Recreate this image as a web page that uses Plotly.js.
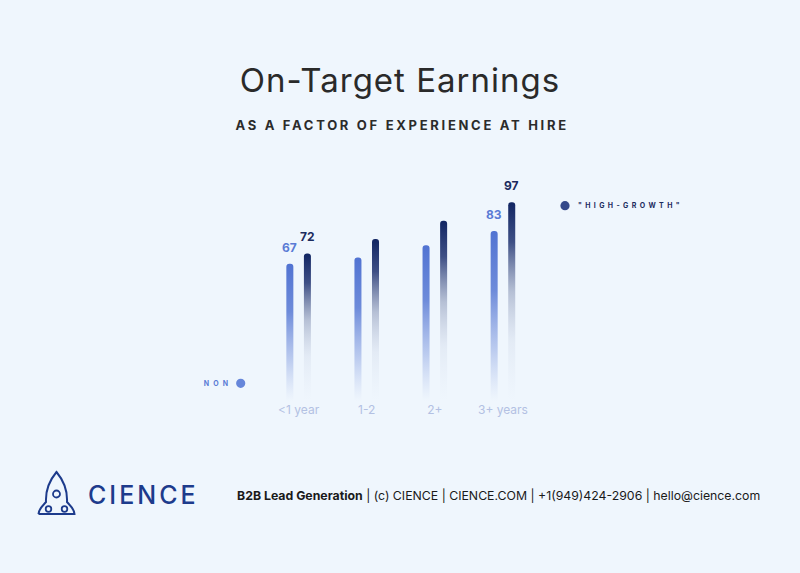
<!DOCTYPE html>
<html>
<head>
<meta charset="utf-8">
<script src="https://cdn.plot.ly/plotly-3.0.1.min.js"></script>
<style>
  html, body { margin: 0; padding: 0; background: #eff6fd; }
  #chart { width: 800px; height: 573px; }
  .gtitle { letter-spacing: 1.0px; }
  .annotation[data-index="0"] text { letter-spacing: 2.7px; }
  .annotation[data-index="1"] text { letter-spacing: 4.2px; }
  .annotation[data-index="2"] text { letter-spacing: 3.4px; }
  .annotation[data-index="3"] text { letter-spacing: 3px; }
</style>
</head>
<body>
<div id="chart"></div>
<script>
// ---- data ----
const categories = ['<1 year', '1-2', '2+', '3+ years'];
const nonValues = [67, 70, 76, 83];
const highValues = [72, 79, 88, 97];
const nonLabels = ['67', '', '', '83'];
const highLabels = ['72', '', '', '97'];
const seriesNames = ['NON', '"HIGH-GROWTH"'];

// ---- layout helpers ----
const W = 800, H = 573, MB = 172;
const plotH = H - MB;
const X = x => x / W;             // pixel -> paper x
const Y = y => 1 - y / plotH;     // pixel -> paper y
const P = (x, y) => X(x).toFixed(5) + ',' + Y(y).toFixed(5);

const nonColor = '#5576d3';
const highColor = '#142a66';
const barOff = 0.129, barW = 0.103;

const traces = [
  {
    type: 'bar', name: seriesNames[0], x: categories, y: nonValues,
    width: barW, offset: -barOff - barW / 2,
    marker: { color: nonColor, cornerradius: 3.5, line: { width: 0 } },
    hoverinfo: 'skip', showlegend: false
  },
  {
    type: 'bar', name: seriesNames[1], x: categories, y: highValues,
    width: barW, offset: barOff - barW / 2,
    marker: { color: highColor, cornerradius: 3.5, line: { width: 0 } },
    hoverinfo: 'skip', showlegend: false
  }
];

const annotations = [
  { text: 'AS A FACTOR OF EXPERIENCE AT HIRE', xref: 'paper', yref: 'paper',
    x: X(402.3), y: Y(124.5), xanchor: 'center', yanchor: 'middle', showarrow: false,
    font: { family: 'Inter', size: 13, color: '#2b2b2b', weight: 700 } },
  { text: seriesNames[0], xref: 'paper', yref: 'paper',
    x: X(218), y: Y(383.3), xanchor: 'center', yanchor: 'middle', showarrow: false,
    font: { family: 'Inter', size: 7, color: '#5a7bd5', weight: 700 } },
  { text: seriesNames[1], xref: 'paper', yref: 'paper',
    x: X(630), y: Y(205.7), xanchor: 'center', yanchor: 'middle', showarrow: false,
    font: { family: 'Inter', size: 7, color: '#1b2b5e', weight: 700 } },
  { text: 'CIENCE', xref: 'paper', yref: 'paper',
    x: X(143.5), y: Y(494.5), xanchor: 'center', yanchor: 'middle', showarrow: false,
    font: { family: 'Inter', size: 25, color: '#1d3b8c', weight: 500 } },
  { text: '<b>B2B Lead Generation</b> | (c) CIENCE | CIENCE.COM | +1(949)424-2906 | hello@cience.com',
    xref: 'paper', yref: 'paper',
    x: X(235), y: Y(495), xanchor: 'left', yanchor: 'middle', showarrow: false,
    font: { family: 'Inter', size: 12.3, color: '#1a1a1a' } }
];

categories.forEach((c, i) => {
  if (nonLabels[i]) annotations.push({
    text: '<b>' + nonLabels[i] + '</b>', xref: 'x', yref: 'y', x: i - barOff, y: nonValues[i],
    yshift: 16.5, xanchor: 'center', yanchor: 'middle', showarrow: false,
    font: { family: 'Inter', size: 12, color: '#5a7bd5' } });
  if (highLabels[i]) annotations.push({
    text: '<b>' + highLabels[i] + '</b>', xref: 'x', yref: 'y', x: i + barOff, y: highValues[i],
    yshift: 16.5, xanchor: 'center', yanchor: 'middle', showarrow: false,
    font: { family: 'Inter', size: 12, color: '#1b2b5e' } });
});

const logoColor = '#1d3b8c';
const rocketBody = 'M ' + P(38.5, 514) +
  ' C ' + P(38.5, 509) + ' ' + P(43.5, 505) + ' ' + P(46, 502) +
  ' C ' + P(45.5, 492) + ' ' + P(49, 481) + ' ' + P(56.5, 472) +
  ' C ' + P(64, 481) + ' ' + P(67.5, 492) + ' ' + P(67, 502) +
  ' C ' + P(69.5, 505) + ' ' + P(74.5, 509) + ' ' + P(74.5, 514) +
  ' L ' + P(38.5, 514);

const shapes = [
  { type: 'path', xref: 'paper', yref: 'paper', path: rocketBody,
    line: { color: logoColor, width: 2 }, fillcolor: 'rgba(0,0,0,0)' },
  { type: 'circle', xref: 'paper', yref: 'paper', xsizemode: 'pixel', ysizemode: 'pixel',
    xanchor: X(56.5), yanchor: Y(494), x0: -3.5, x1: 3.5, y0: -3.5, y1: 3.5,
    line: { color: logoColor, width: 1.8 }, fillcolor: 'rgba(0,0,0,0)' },
  { type: 'circle', xref: 'paper', yref: 'paper', xsizemode: 'pixel', ysizemode: 'pixel',
    xanchor: X(48.5), yanchor: Y(509), x0: -2.8, x1: 2.8, y0: -2.8, y1: 2.8,
    line: { color: logoColor, width: 1.8 }, fillcolor: '#eff6fd' },
  { type: 'circle', xref: 'paper', yref: 'paper', xsizemode: 'pixel', ysizemode: 'pixel',
    xanchor: X(64.5), yanchor: Y(509), x0: -2.8, x1: 2.8, y0: -2.8, y1: 2.8,
    line: { color: logoColor, width: 1.8 }, fillcolor: '#eff6fd' },
  // legend dots
  { type: 'circle', xref: 'paper', yref: 'paper', xsizemode: 'pixel', ysizemode: 'pixel',
    xanchor: X(240.7), yanchor: Y(383.3), x0: -4.6, x1: 4.6, y0: -4.6, y1: 4.6,
    line: { width: 0 }, fillcolor: '#6686da' },
  { type: 'circle', xref: 'paper', yref: 'paper', xsizemode: 'pixel', ysizemode: 'pixel',
    xanchor: X(565), yanchor: Y(205.7), x0: -4.6, x1: 4.6, y0: -4.6, y1: 4.6,
    line: { width: 0 }, fillcolor: '#34498a' }
];

const layout = {
  width: W, height: H,
  margin: { l: 0, r: 0, t: 0, b: MB, pad: 0 },
  paper_bgcolor: '#eff6fd', plot_bgcolor: '#eff6fd',
  title: { text: 'On-Target Earnings', xref: 'paper', x: 0.5, xanchor: 'center',
    yref: 'container', y: 1 - 80 / H, yanchor: 'middle',
    font: { family: 'Inter', size: 33, color: '#2a2a2a', weight: 400 } },
  barmode: 'overlay',
  xaxis: { type: 'category', range: [-4.385, 7.362], showgrid: false, zeroline: false,
    showline: false, ticks: '', tickfont: { family: 'Inter', size: 12, color: '#b3c1e3' },
    fixedrange: true },
  yaxis: { range: [0, plotH / 2.0495], visible: false, fixedrange: true },
  showlegend: false,
  annotations: annotations,
  shapes: shapes
};

Plotly.newPlot('chart', traces, layout, { displayModeBar: false, staticPlot: true }).then(gd => {
  const svg = gd.querySelector('.main-svg');
  const NS = 'http://www.w3.org/2000/svg';
  let defs = svg.querySelector('defs');
  if (!defs) { defs = document.createElementNS(NS, 'defs'); svg.insertBefore(defs, svg.firstChild); }
  function grad(id, stops) {
    const g = document.createElementNS(NS, 'linearGradient');
    g.setAttribute('id', id);
    g.setAttribute('x1', '0'); g.setAttribute('y1', '0');
    g.setAttribute('x2', '0'); g.setAttribute('y2', '1');
    stops.forEach(s => {
      const st = document.createElementNS(NS, 'stop');
      st.setAttribute('offset', s[0]);
      st.setAttribute('stop-color', s[1]);
      st.setAttribute('stop-opacity', s[2]);
      g.appendChild(st);
    });
    defs.appendChild(g);
  }
  grad('gradNon', [[0, '#5173d2', 1], [0.35, '#5f7fd6', 0.9], [0.7, '#7c97de', 0.45], [1, '#9db1e6', 0]]);
  grad('gradHigh', [[0, '#112562', 1], [0.2, '#1f3270', 0.85], [0.45, '#4a5a8a', 0.35], [0.7, '#8d9abd', 0.12], [1, '#b0bcd8', 0]]);
  const barTraces = gd.querySelectorAll('.barlayer .trace');
  const ids = ['gradNon', 'gradHigh'];
  barTraces.forEach((t, k) => {
    t.querySelectorAll('path').forEach(p => { p.style.fill = 'url(#' + ids[k] + ')'; });
  });
});
</script>
</body>
</html>
